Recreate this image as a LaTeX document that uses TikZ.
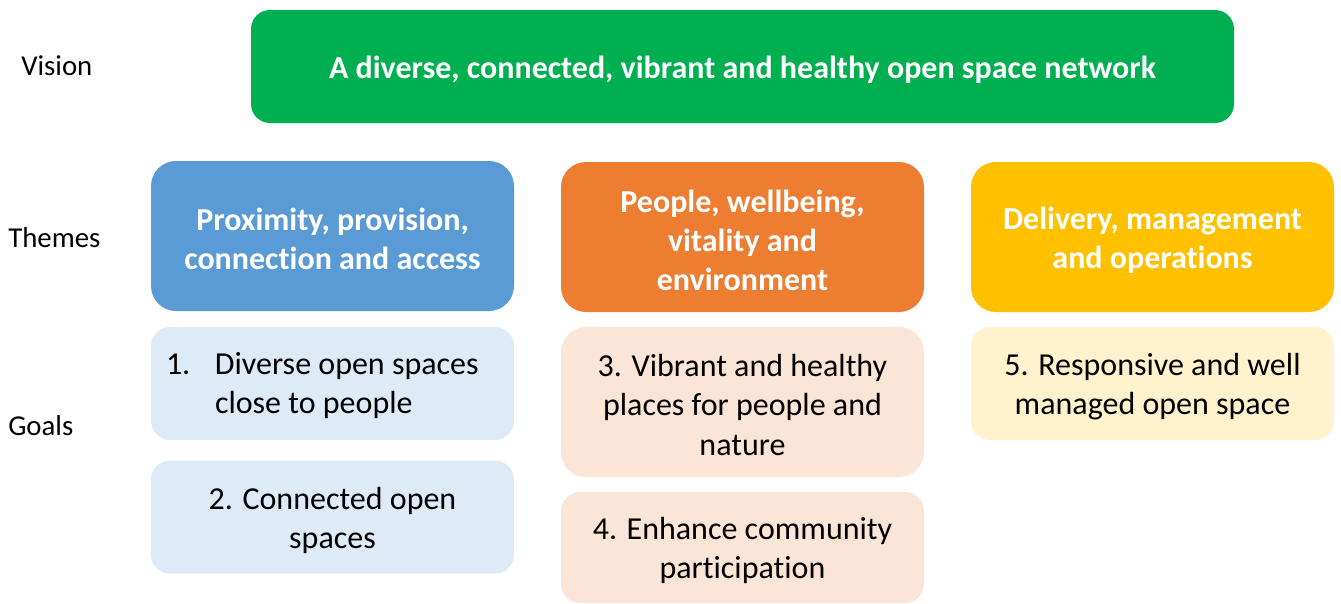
\documentclass[tikz,border=0pt]{standalone}
\usepackage{fontspec}
\setmainfont{Carlito}[RawFeature=-liga]
\definecolor{visiongreen}{HTML}{00B050}
\definecolor{themeblue}{HTML}{5B9BD5}
\definecolor{themeorange}{HTML}{ED7D31}
\definecolor{themeyellow}{HTML}{FFC000}
\definecolor{goalblue}{HTML}{DEEBF7}
\definecolor{goalorange}{HTML}{FBE5D6}
\definecolor{goalyellow}{HTML}{FFF2CC}
\begin{document}
\begin{tikzpicture}[x=0.75pt,y=-0.75pt,
  txt/.style={font=\fontsize{24}{29.3}\selectfont,inner sep=0pt},
  boldtxt/.style={txt,font=\fontsize{24}{29.3}\selectfont\bfseries,text=white,align=center},
  goaltxt/.style={txt,text=black,align=center},
  rowlabel/.style={font=\fontsize{21.6}{26}\selectfont,anchor=west,inner sep=0pt},
  card/.style={draw=none,rounded corners=#1,inner sep=0pt},
  wide/.style={minimum width=363*0.75pt},
  shortcard/.style={card=19*0.75pt,wide,minimum height=113*0.75pt},
  tallcard/.style={card=25*0.75pt,wide,minimum height=150*0.75pt},
  down/.style={yshift=-3*0.75pt},
]
\useasboundingbox (0,0) rectangle (1341,603);

% row labels
\node[rowlabel] (lvision) at (21,66) {Vision};
\node[rowlabel] (lthemes) at (8,238) {Themes};
\node[rowlabel] (lgoals) at (8,426) {Goals};

% vision
\node[card=19*0.75pt,fill=visiongreen,minimum width=983*0.75pt,minimum height=113*0.75pt] (vision) at (742.5,66.5) {};
\node[boldtxt,down] (visiontext) at (vision.center)
  {A diverse, connected, vibrant and healthy open space network};

% themes
\node[tallcard,fill=themeblue] (theme1) at (332.5,236) {};
\node[boldtxt,down] (theme1text) at (theme1.center) {Proximity, provision,\\connection and access};
\node[tallcard,fill=themeorange] (theme2) at (742.5,237) {};
\node[boldtxt,down] (theme2text) at (theme2.center) {People, wellbeing,\\vitality and\\environment};
\node[tallcard,fill=themeyellow] (theme3) at (1152.5,237) {};
\node[boldtxt,down] (theme3text) at (theme3.center) {Delivery, management\\and operations};

% goals
\node[shortcard,fill=goalblue] (goal1) at (332.5,383.5) {};
\node[txt,anchor=west,down,xshift=15*0.75pt] (goal1text) at (goal1.west)
  {\renewcommand{\arraystretch}{1}\begin{tabular}{@{}p{49\dimexpr0.75pt\relax}@{}l@{}}
   1.&Diverse open spaces\\&close to people\end{tabular}};
\node[shortcard,fill=goalblue] (goal2) at (332.5,517) {};
\node[goaltxt,down] (goal2text) at (goal2.center) {2. Connected open\\spaces};
\node[tallcard,fill=goalorange] (goal3) at (742.5,402) {};
\node[goaltxt,down] (goal3text) at (goal3.center) {3. Vibrant and healthy\\places for people and\\nature};
\node[shortcard,minimum height=111*0.75pt,fill=goalorange] (goal4) at (742.5,547.5) {};
\node[goaltxt,down] (goal4text) at (goal4.center) {4. Enhance community\\participation};
\node[shortcard,fill=goalyellow] (goal5) at (1152.5,383.5) {};
\node[goaltxt,down] (goal5text) at (goal5.center) {5. Responsive and well\\managed open space};
\end{tikzpicture}
\end{document}
